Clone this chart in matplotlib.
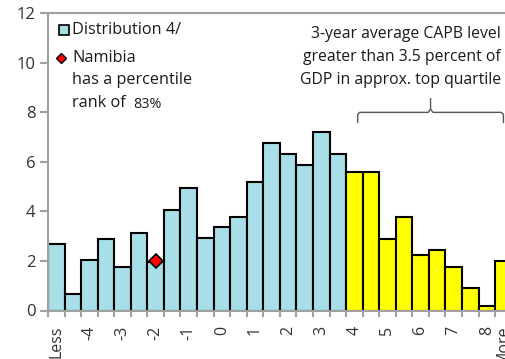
import matplotlib
matplotlib.use("Agg")
import matplotlib.pyplot as plt
from matplotlib.lines import Line2D

plt.rcParams['font.family'] = ['Open Sans', 'DejaVu Sans']

categories = ["Less", "-4.5", "-4", "-3.5", "-3", "-2.5", "-2", "-1.5", "-1", "-0.5",
              "0", "0.5", "1", "1.5", "2", "2.5", "3", "3.5", "4", "4.5",
              "5", "5.5", "6", "6.5", "7", "7.5", "8", "More"]
values = [2.67, 0.65, 2.03, 2.89, 1.77, 3.14, 1.95, 4.06, 4.96, 2.91,
          3.38, 3.79, 5.18, 6.75, 6.33, 5.86, 7.22, 6.33, 5.60, 5.60,
          2.90, 3.79, 2.24, 2.44, 1.77, 0.90, 0.19, 2.01]
n_blue = 18  # bins up to 3.5 are blue, from 4 onward yellow
namibia_category = "-2"
namibia_value = 2.0
yticks = [0, 2, 4, 6, 8, 10, 12]

W, H = 506, 359
fig = plt.figure(figsize=(W / 100, H / 100), dpi=100)
ax = fig.add_axes([48 / W, 1 - 310.5 / H, 463.7 / W, (310.5 - 13.3) / H])

blue = '#A7DEE8'
yellow = '#FFFF00'
txt = '#1a1a1a'
colors = [blue if i < n_blue else yellow for i in range(len(values))]
x = list(range(len(values)))
ax.bar(x, values, width=1.0, color=colors, edgecolor='black', linewidth=1.5, zorder=2)

nx = categories.index(namibia_category)
ax.plot([nx], [namibia_value], marker='D', ms=7.3, mfc='#FF0000', mec='black',
        mew=1.2, linestyle='none', zorder=4)

ax.set_xlim(-0.5, len(values) - 0.5)
ax.set_ylim(0, 12)

# y axis
ax.set_yticks(yticks)
ax.set_yticklabels([str(v) for v in yticks], fontsize=12, color='#333333')
ax.tick_params(axis='y', direction='out', length=6, width=1.5, color='#A0A0A0', pad=3)

# x axis: ticks at boundaries, labels on every other category
ax.set_xticks([i - 0.5 for i in range(len(values) + 1)], minor=False)
ax.set_xticklabels([])
ax.tick_params(axis='x', which='major', direction='out', length=4, width=1.5, color='#A0A0A0')

def shown(lbl):
    if lbl in ("Less", "More"):
        return True
    return float(lbl).is_integer()

lab_pos = [i for i, c in enumerate(categories) if shown(c)]
ax.set_xticks(lab_pos, minor=True)
ax.set_xticklabels([categories[i] for i in lab_pos], minor=True, rotation=90,
                   fontsize=11.5, color='#333333', va='top', ha='center')
ax.tick_params(axis='x', which='minor', length=0, pad=11)

for s in ['left', 'bottom', 'top']:
    ax.spines[s].set_color('#A0A0A0')
    ax.spines[s].set_linewidth(1.5)
ax.spines['right'].set_visible(False)

# legend (manual)
def fx(px):
    return px / W
def fy(py):
    return 1 - py / H

fig.add_artist(Line2D([fx(64)], [fy(30)], marker='s', ms=7, mfc=blue, mec='black',
                      mew=1.2, linestyle='none', transform=fig.transFigure))
fig.text(fx(72), fy(30), "Distribution 4/", fontsize=11.7, color=txt, va='center', ha='left')
fig.add_artist(Line2D([fx(61.5)], [fy(58)], marker='D', ms=4.8, mfc='#FF0000', mec='black',
                      mew=1.0, linestyle='none', transform=fig.transFigure))
fig.text(fx(72), fy(58), "Namibia", fontsize=11.7, color=txt, va='center', ha='left')
fig.text(fx(72), fy(80.5), "has a percentile", fontsize=11.7, color=txt, va='center', ha='left')
fig.text(fx(72), fy(103), "rank of", fontsize=11.7, color=txt, va='center', ha='left')
fig.text(fx(133), fy(104), "83%", fontsize=10.3, color=txt, va='center', ha='left')

# annotation
fs_ann = 11.3
fig.text(fx(501), fy(34), "3-year average CAPB level", fontsize=fs_ann, color=txt, va='center', ha='right')
fig.text(fx(501), fy(57), "greater than 3.5 percent of", fontsize=fs_ann, color=txt, va='center', ha='right')
fig.text(fx(501), fy(79.5), "GDP in approx. top quartile", fontsize=fs_ann, color=txt, va='center', ha='right')

# brace
bx0, bx1 = 18.2, 27.0
bm = (bx0 + bx1) / 2
yb = 8.0
left = [(bx0, 7.6), (bx0, 7.92), (bx0 + 0.12, yb), (bm - 0.15, yb), (bm, yb + 0.12), (bm, yb + 0.55)]
right = [(bm, yb + 0.12), (bm + 0.15, yb), (bx1 - 0.12, yb), (bx1, 7.92), (bx1, 7.6)]
for seg in (left, right):
    ax.plot([p[0] for p in seg], [p[1] for p in seg], color='#555555', lw=1.0,
            clip_on=False, zorder=3)

fig.savefig('out.png', dpi=100)
